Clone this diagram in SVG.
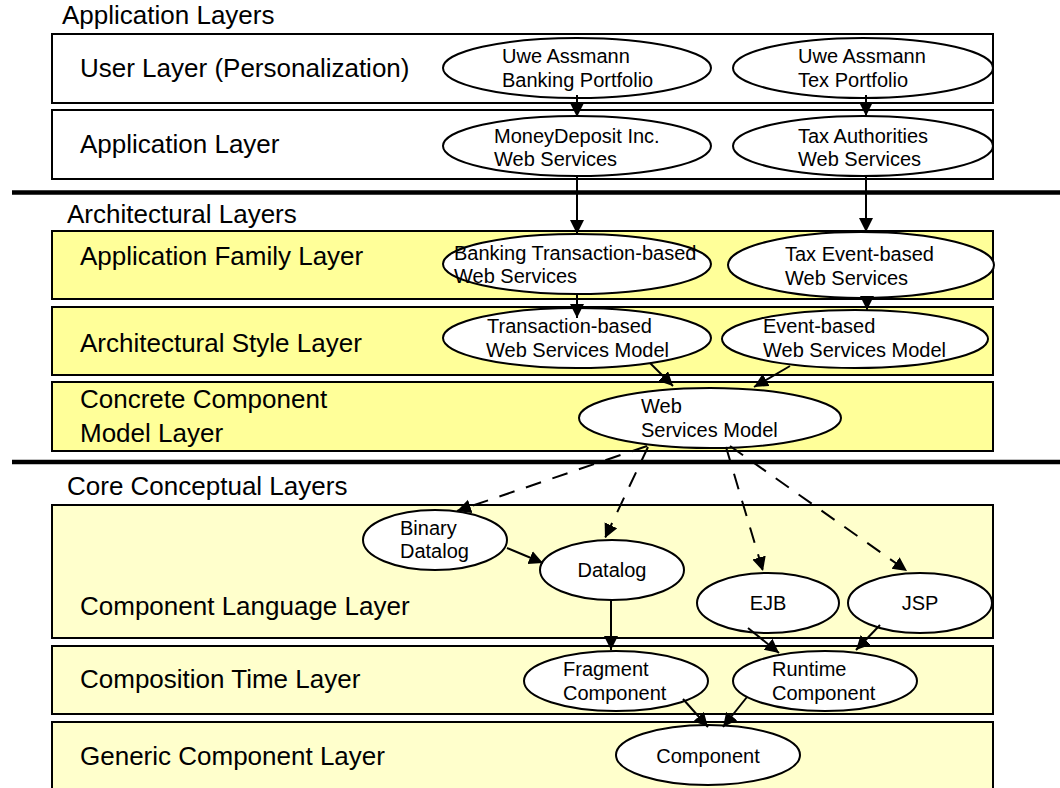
<svg xmlns="http://www.w3.org/2000/svg" width="1060" height="788" viewBox="0 0 1060 788">
<style>
.layer{stroke:#000;stroke-width:2}
.app{fill:#fff}
.arch{fill:#ffff99}
.core{fill:#ffffcc}
.lbl{font-family:"Liberation Sans",Arial,sans-serif;font-size:26px;fill:#000}
.node{fill:#fff;stroke:#000;stroke-width:2}
.nt{font-family:"Liberation Sans",Arial,sans-serif;font-size:20px;fill:#000}
.c{text-anchor:middle}
.sep{stroke:#000;stroke-width:4.5}
.edge{stroke:#000;stroke-width:2;fill:none;marker-end:url(#ah)}
.dash{stroke-dasharray:16 12}
</style>
<defs>
<marker id="ah" markerUnits="userSpaceOnUse" markerWidth="16" markerHeight="16" refX="14" refY="7" orient="auto">
<path d="M0,0 L14,7 L0,14 z" fill="#000" stroke="none"/>
</marker>
</defs>
<rect width="1060" height="788" fill="#fff"/>

<!-- headers and separators -->
<text class="lbl" x="62" y="24">Application Layers</text>
<line class="sep" x1="12" y1="192.5" x2="1060" y2="192.5"/>
<text class="lbl" x="67" y="223">Architectural Layers</text>
<line class="sep" x1="12" y1="462" x2="1060" y2="462"/>
<text class="lbl" x="67" y="495">Core Conceptual Layers</text>

<!-- layers -->
<g id="layer-user"><rect class="layer app" x="52" y="34" width="941" height="69"/><text class="lbl" x="80" y="77">User Layer (Personalization)</text></g>
<g id="layer-application"><rect class="layer app" x="52" y="110" width="941" height="69"/><text class="lbl" x="80" y="153">Application Layer</text></g>
<g id="layer-appfamily"><rect class="layer arch" x="52" y="231" width="941" height="68"/><text class="lbl" x="80" y="265">Application Family Layer</text></g>
<g id="layer-archstyle"><rect class="layer arch" x="52" y="307" width="941" height="68"/><text class="lbl" x="80" y="352">Architectural Style Layer</text></g>
<g id="layer-concrete"><rect class="layer arch" x="52" y="382" width="941" height="69"/><text class="lbl" x="80" y="408">Concrete Component</text><text class="lbl" x="80" y="442">Model Layer</text></g>
<g id="layer-complang"><rect class="layer core" x="52" y="505" width="941" height="133"/><text class="lbl" x="80" y="615">Component Language Layer</text></g>
<g id="layer-comptime"><rect class="layer core" x="52" y="646" width="941" height="68"/><text class="lbl" x="80" y="688">Composition Time Layer</text></g>
<g id="layer-generic"><rect class="layer core" x="52" y="722" width="941" height="80"/><text class="lbl" x="80" y="765">Generic Component Layer</text></g>

<!-- nodes -->
<g id="n-banking-portfolio"><ellipse class="node" cx="577" cy="68" rx="134" ry="30"/><text class="nt" x="502" y="63">Uwe Assmann</text><text class="nt" x="502" y="87">Banking Portfolio</text></g>
<g id="n-tex-portfolio"><ellipse class="node" cx="863" cy="68" rx="130" ry="30"/><text class="nt" x="798" y="63">Uwe Assmann</text><text class="nt" x="798" y="87">Tex Portfolio</text></g>
<g id="n-moneydeposit"><ellipse class="node" cx="577" cy="146" rx="134" ry="30"/><text class="nt" x="494" y="143">MoneyDeposit Inc.</text><text class="nt" x="494" y="166">Web Services</text></g>
<g id="n-taxauth"><ellipse class="node" cx="863" cy="146" rx="130" ry="30"/><text class="nt" x="798" y="143">Tax Authorities</text><text class="nt" x="798" y="166">Web Services</text></g>
<g id="n-banking-trans"><ellipse class="node" cx="577" cy="264" rx="134" ry="30"/><text class="nt" x="454" y="260">Banking Transaction-based</text><text class="nt" x="454" y="283">Web Services</text></g>
<g id="n-tax-event"><ellipse class="node" cx="861" cy="265" rx="133" ry="33"/><text class="nt" x="785" y="261">Tax Event-based</text><text class="nt" x="785" y="285">Web Services</text></g>
<g id="n-trans-model"><ellipse class="node" cx="577" cy="338" rx="134" ry="30"/><text class="nt" x="487" y="333">Transaction-based</text><text class="nt" x="486" y="357">Web Services Model</text></g>
<g id="n-event-model"><ellipse class="node" cx="855" cy="339" rx="133" ry="29"/><text class="nt" x="763" y="333">Event-based</text><text class="nt" x="763" y="357">Web Services Model</text></g>
<g id="n-ws-model"><ellipse class="node" cx="710" cy="418" rx="131" ry="30"/><text class="nt" x="641" y="413">Web</text><text class="nt" x="641" y="437">Services Model</text></g>
<g id="n-binary-datalog"><ellipse class="node" cx="435" cy="540" rx="72" ry="30"/><text class="nt" x="400" y="535">Binary</text><text class="nt" x="400" y="558">Datalog</text></g>
<g id="n-datalog"><ellipse class="node" cx="612" cy="570" rx="72" ry="30"/><text class="nt c" x="612" y="577">Datalog</text></g>
<g id="n-ejb"><ellipse class="node" cx="768" cy="603" rx="71" ry="30"/><text class="nt c" x="768" y="610">EJB</text></g>
<g id="n-jsp"><ellipse class="node" cx="920" cy="603" rx="72" ry="30"/><text class="nt c" x="920" y="610">JSP</text></g>
<g id="n-fragment"><ellipse class="node" cx="616" cy="681" rx="92" ry="30"/><text class="nt" x="563" y="676">Fragment</text><text class="nt" x="563" y="700">Component</text></g>
<g id="n-runtime"><ellipse class="node" cx="825" cy="681" rx="92" ry="30"/><text class="nt" x="772" y="676">Runtime</text><text class="nt" x="772" y="700">Component</text></g>
<g id="n-component"><ellipse class="node" cx="708" cy="755" rx="92" ry="30"/><text class="nt c" x="708" y="763">Component</text></g>

<!-- connectors -->
<g id="connectors">
<line class="edge" x1="577" y1="95" x2="577" y2="117"/>
<line class="edge" x1="866" y1="95" x2="866" y2="116"/>
<line class="edge" x1="577" y1="176" x2="577" y2="234"/>
<line class="edge" x1="866" y1="176" x2="866" y2="232"/>
<line class="edge" x1="577" y1="293" x2="577" y2="318"/>
<line class="edge" x1="867" y1="297" x2="867" y2="310"/>
<line class="edge" x1="650" y1="363" x2="673" y2="386"/>
<line class="edge" x1="790" y1="366" x2="754" y2="387"/>
<line class="edge dash" x1="647" y1="446" x2="457" y2="511"/>
<line class="edge dash" x1="648" y1="447" x2="605" y2="538"/>
<line class="edge dash" x1="726" y1="447" x2="763" y2="571"/>
<line class="edge dash" x1="730" y1="446" x2="907" y2="571"/>
<line class="edge" x1="507" y1="548" x2="543" y2="563"/>
<line class="edge" x1="611" y1="600" x2="611" y2="650"/>
<line class="edge" x1="748" y1="628" x2="779" y2="653"/>
<line class="edge" x1="880" y1="625" x2="856" y2="650"/>
<line class="edge" x1="683" y1="699" x2="708" y2="727"/>
<line class="edge" x1="747" y1="697" x2="723" y2="727"/>
</g>
</svg>
